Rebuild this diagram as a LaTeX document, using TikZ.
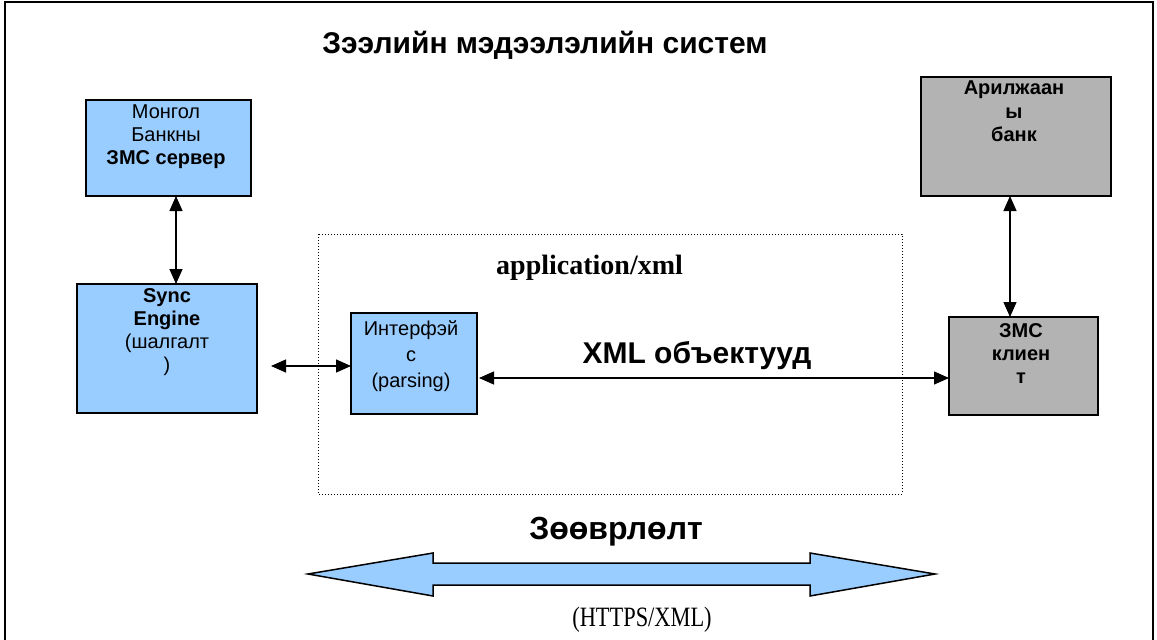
\documentclass[tikz,border=0pt]{standalone}
\usepackage{fontspec}
\setmainfont{Liberation Serif}
\setsansfont{Liberation Sans}
\usetikzlibrary{arrows.meta}
\definecolor{boxblue}{HTML}{99CCFF}
\definecolor{boxgray}{HTML}{B3B3B3}
\begin{document}
\begin{tikzpicture}[x=1pt,y=-1pt,
  box/.style={draw=black,line width=1.5pt},
  btxt/.style={anchor=north,align=center,font=\sffamily\fontsize{20}{23}\selectfont,inner sep=0pt},
  conn/.style={line width=1.3pt,{Triangle[length=15pt,width=13pt]}-{Triangle[length=15pt,width=13pt]}},
  hdr/.style={font=\sffamily\bfseries\fontsize{30}{34}\selectfont,inner sep=0pt}]
\useasboundingbox (0,0) rectangle (1157,640);
\draw[line width=1.5pt] (5,650) -- (5,2) -- (1153,2) -- (1153,650);
% title
\node[hdr] (title) at (545,45) {Зээлийн мэдээлэлийн систем};
% dotted container
\draw[dotted,line width=1pt] (318,234) rectangle (902,494);
\node[font=\bfseries\fontsize{28}{32}\selectfont,inner sep=0pt,anchor=west] (app) at (496,268) {application/xml};
% boxes
\path[box,fill=boxblue] (86,100) rectangle (251,196);
\coordinate (mbS) at (176,196);
\node[btxt] (mbT) at (166,105) {Монгол\\Банкны\\\textbf{ЗМС сервер}};
\path[box,fill=boxgray] (921,77) rectangle (1111,196);
\coordinate (abS) at (1010,196);
\node[btxt,font=\sffamily\bfseries\fontsize{20}{23.5}\selectfont] (abT) at (1014,81) {Арилжаан\\ы\\банк};
\path[box,fill=boxblue] (77,284) rectangle (257,413);
\coordinate (seN) at (176,284);
\node[btxt] (seT) at (167,288) {\textbf{Sync}\\\textbf{Engine}\\(шалгалт\\)};
\path[box,fill=boxblue] (351,313) rectangle (477,414);
\node[btxt,font=\sffamily\fontsize{20}{26}\selectfont] (ifT) at (411,320) {Интерфэй\\с\\(parsing)};
\path[box,fill=boxgray] (949,317) rectangle (1098,415);
\coordinate (zcN) at (1010,317);
\node[btxt,font=\sffamily\bfseries\fontsize{20}{23}\selectfont] (zcT) at (1021,323) {ЗМС\\клиен\\т};
% connectors
\coordinate (seE) at (271,366);
\coordinate (ifW) at (351,366);
\coordinate (ifE) at (479,378);
\coordinate (zcW) at (949,378);
\draw[conn] (mbS) -- (seN);
\draw[conn] (abS) -- (zcN);
\draw[conn] (seE) -- (ifW);
\draw[conn] (ifE) -- (zcW);
\node[hdr] (xml) at (697,356) {XML объектууд};
% transport arrow
\node[hdr,font=\sffamily\bfseries\fontsize{32}{36}\selectfont] (tr) at (616,532) {Зөөврлөлт};
\draw[line width=1.5pt,fill=boxblue] (308,574) -- (433,553) -- (433,563) -- (810,563) -- (810,553) -- (935,574) -- (810,596) -- (810,585) -- (433,585) -- (433,596) -- cycle;
\node[font=\fontsize{28}{32}\selectfont,inner sep=0pt] (https) at (642,620) {\scalebox{0.8}[1]{(HTTPS/XML)}};
\end{tikzpicture}
\end{document}
